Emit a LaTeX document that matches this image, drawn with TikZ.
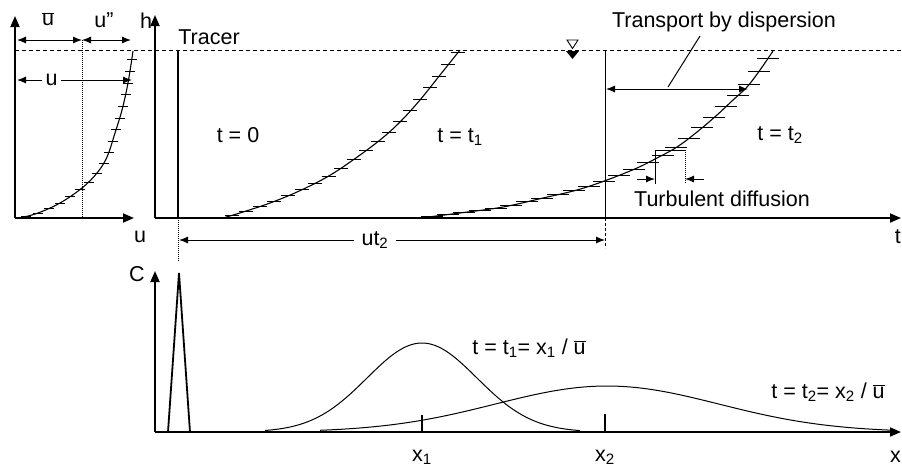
\documentclass[tikz,border=0pt]{standalone}
\usepackage{fontspec}
\setmainfont{Liberation Sans}
\usetikzlibrary{arrows.meta,decorations.markings}
\newcommand{\ubar}{$\overline{\hbox{u}}$}

\begin{document}
\begin{tikzpicture}[
x=1pt, y=-1pt,
font=\fontsize{21.5}{25}\selectfont,
axis/.style={line width=1.8pt, -{Triangle[length=11pt,width=9pt]}},
dim/.style={line width=1pt, {Latex[length=9pt,width=7pt]}-{Latex[length=9pt,width=7pt]}},
tip/.style={line width=1pt, -{Latex[length=9pt,width=7pt]}},
surface/.style={dashed, dash pattern=on 4pt off 3pt, line width=1pt},
profile/.style 2 args={line width=1.1pt, postaction={decorate},
  decoration={markings, mark=between positions 0.03 and 0.99 step #1 with
  {\pgftransformresetnontranslations \draw[line width=1pt] (-#2,0) -- (#2,0);}}},
curve/.style={line width=1pt},
lbl/.style={inner sep=1pt}
]
\useasboundingbox (0,0) rectangle (902,467);

% velocity profile (left)
\coordinate (lo) at (15,218);
\coordinate (lh) at (15,16);
\coordinate (lu) at (134,218);
\draw[axis] (lo) -- (lh);
\draw[axis] (lo) -- (lu);
\draw[densely dotted, line width=1pt] (82,40) -- (82,218);
\draw[profile={12pt}{5}] plot[smooth, tension=0.6] coordinates
  {(20,218) (38,213) (60,203) (82,188) (97,173) (107,157) (115,133) (122,110) (128,83) (133,51)};
\coordinate (ua) at (17,40);
\coordinate (ub) at (82,40);
\coordinate (uc) at (131,40);
\draw[dim] (ua) -- (ub);
\draw[dim] (ub) -- (uc);
\node[lbl] (umean) at (48,19) {\ubar};
\node[lbl] (uprime) at (104,20) {u"};
\coordinate (ud) at (17,80);
\coordinate (ue) at (132,80);
\draw[dim] (ud) -- node[pos=0.3, fill=white, inner sep=4pt] (uvel) {u} (ue);
\node[lbl] (uaxis) at (140,237) {u};

% water surface
\coordinate (sa) at (15,50);
\coordinate (sb) at (902,50);
\draw[surface] (sa) -- (sb);
\draw[line width=0.9pt] (567,40) -- (578,40) -- (572.5,48.5) -- cycle;
\fill (566,51) -- (579,51) -- (572.5,59) -- cycle;

% main panel
\coordinate (O) at (155,218);
\coordinate (htip) at (155,15);
\coordinate (ttip) at (901,218);
\draw[axis] (O) -- (htip);
\draw[axis] (O) -- (ttip);
\node[lbl] (hlbl) at (146,21) {h};
\node[lbl, anchor=east] (tlbl) at (902,237) {t};
\draw[line width=2.2pt] (178,50) -- (178,218);
\draw[densely dotted, line width=1pt] (178,218) -- (178,262);
\node[lbl] (tracer) at (209,37) {Tracer};
\node[lbl] (tzero) at (238,135) {t = 0};

\draw[profile={15pt}{7}] plot[smooth, tension=0.6] coordinates
  {(223,218) (243,212) (270,203) (297,192) (327,177) (353,160) (380,140) (400,122) (420,100) (440,75) (460,50)};
\node[lbl] (tone) at (460,137) {t = t\textsubscript{1}};

\draw[profile={16pt}{11}] plot[smooth, tension=0.6] coordinates
  {(420,218) (460,213) (503,207) (543,198) (577,190) (607,180) (637,168) (657,158) (677,147) (697,132) (717,115) (733,100) (747,87) (760,70) (773,51)};
\node[lbl] (ttwo) at (780,135) {t = t\textsubscript{2}};

\draw[line width=1pt] (605,50) -- (605,218);
\draw[densely dashed, line width=1pt] (605,218) -- (605,248);

% dispersion
\node[lbl] (disp) at (724,22) {Transport by dispersion};
\coordinate (da) at (606,89);
\coordinate (db) at (748,89);
\draw[dim] (da) -- (db);
\draw[line width=1pt] (700,36) -- (668,87);

% turbulent diffusion
\draw[line width=1pt] (655,184) -- (655,150) -- (685,150);
\draw[densely dotted, line width=1pt] (685,150) -- (685,184);
\coordinate (ta) at (637,179);
\coordinate (tb) at (655,179);
\coordinate (tc) at (704,179);
\coordinate (td) at (685,179);
\draw[tip] (ta) -- (tb);
\draw[tip] (tc) -- (td);
\node[lbl] (turb) at (722,199) {Turbulent diffusion};

% travel distance
\coordinate (wa) at (179,240);
\coordinate (wb) at (605,240);
\draw[dim] (wa) -- node[pos=0.46, fill=white, inner sep=8pt] (ut) {ut\textsubscript{2}} (wb);

% concentration
\coordinate (C0) at (155,432);
\coordinate (Ctip) at (155,271);
\coordinate (xtip) at (901,432);
\draw[axis] (C0) -- (Ctip);
\draw[axis] (C0) -- (xtip);
\node[lbl] (clbl) at (137,274) {C};
\node[lbl, anchor=east] (xlbl) at (902,457) {x};
\draw[line width=1.8pt] (168,432) -- (179,273) -- (190,432);
\draw[curve] plot[domain=265:580, samples=90] (\x, {432-89*exp(-0.5*((\x-422)/55)^2)});
\draw[curve] plot[domain=320:895, samples=110] (\x, {432-46*exp(-0.5*((\x-607)/112)^2)});
\draw[line width=1.2pt] (422,415) -- (422,432);
\draw[line width=1.2pt] (605,414) -- (605,432);
\node[lbl] (xone) at (422,457) {x\textsubscript{1}};
\node[lbl] (xtwo) at (605,457) {x\textsubscript{2}};
\node[lbl] (cone) at (529,348) {t = t\textsubscript{1}= x\textsubscript{1} / \ubar};
\node[lbl] (ctwo) at (828,392) {t = t\textsubscript{2}= x\textsubscript{2} / \ubar};
\end{tikzpicture}
\end{document}
